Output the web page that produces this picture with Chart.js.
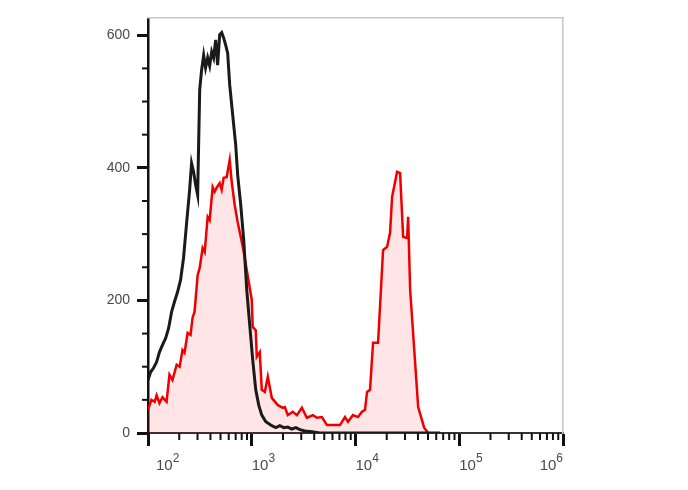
<!DOCTYPE html>
<html>
<head>
<meta charset="utf-8">
<script src="https://cdn.jsdelivr.net/npm/chart.js@4.4.1/dist/chart.umd.min.js"></script>
<style>
  html, body { margin: 0; padding: 0; background: #fff; }
  #wrap { width: 688px; height: 490px; }
</style>
</head>
<body>
<div id="wrap"><canvas id="histChart" width="688" height="490"></canvas></div>
<script>
// Unstained control (black) - fluorescence intensity and event counts
const blackX = [100, 106, 113, 121, 129, 138, 148, 158, 169, 180, 193, 206, 220, 236, 252, 263, 275, 288, 301, 315,
  329, 344, 359, 376, 393, 411, 429, 449, 469, 491, 513, 536, 561, 586, 613, 655, 700, 732, 783, 837,
  895, 956, 1022, 1093, 1168, 1249, 1366, 1561, 1706, 1865, 2038, 2227, 2435, 2662, 2910, 3251, 3799, 4539, 11050, 65540];
const blackCounts = [80, 92, 98, 107, 122, 133, 143, 158, 183, 198, 213, 231, 264, 318, 367, 407, 394, 374, 359, 518,
  548, 570, 551, 566, 554, 575, 566, 593, 555, 601, 604, 596, 585, 573, 525, 480, 435, 389, 344, 291,
  216, 163, 110, 65, 42, 27, 17, 11, 8, 11, 8, 9, 6, 8, 5, 3, 2, 0, 0, 0];

// Stained sample (red, filled)
const redX = [100, 108, 116, 121, 129, 138, 151, 161, 172, 189, 202, 215, 225, 241, 257, 269, 281, 301, 315, 336,
  352, 376, 393, 420, 439, 459, 491, 513, 536, 573, 613, 641, 685, 732, 783, 837, 895, 956, 1000, 1022,
  1093, 1118, 1195, 1249, 1336, 1428, 1561, 1784, 1993, 2084, 2227, 2489, 2722, 3042, 3400, 3885, 4247, 4746, 5304, 7084,
  7918, 8464, 9461, 10572, 11557, 12356, 12917, 13808, 14763, 16500, 18440, 20160, 21540, 22525, 25180, 26915, 28775, 31450, 32165, 33625,
  40180, 45900, 50180];
const redCounts = [35, 50, 47, 57, 45, 54, 47, 88, 80, 103, 100, 125, 121, 151, 148, 174, 183, 238, 249, 279,
  273, 326, 321, 371, 364, 370, 377, 367, 385, 386, 412, 379, 344, 318, 296, 273, 246, 219, 201, 160,
  155, 115, 122, 65, 62, 85, 53, 42, 38, 39, 27, 32, 27, 38, 23, 27, 23, 24, 12, 12,
  24, 17, 27, 24, 32, 35, 62, 65, 136, 136, 276, 281, 302, 356, 394, 392, 296, 294, 326, 216,
  39, 8, 0];

// Axis ticks
const xMajorTicks = [1e2, 1e3, 1e4, 1e5, 1e6];
const xTickExponents = ['2', '3', '4', '5', '6'];
const yMajorTicks = [0, 200, 400, 600];
const yMinorTicks = [50, 100, 150, 250, 300, 350, 450, 500, 550];

const xMinorTicks = [];
[1e2, 1e3, 1e4, 1e5].forEach(d => {
  for (let k = 2; k <= 9; k++) xMinorTicks.push(k * d);
});

const toPoints = (xs, ys) => xs.map((v, i) => ({ x: v, y: ys[i] }));

// minor ticks and 10^n labels drawn at positions from the chart's scales
const axisDecor = {
  id: 'axisDecor',
  afterDraw(chart) {
    const { ctx, scales: { x, y } } = chart;
    ctx.save();
    ctx.strokeStyle = '#111';
    ctx.lineWidth = 2;
    yMinorTicks.forEach(v => {
      const py = y.getPixelForValue(v);
      ctx.beginPath();
      ctx.moveTo(x.left - 6, py);
      ctx.lineTo(x.left, py);
      ctx.stroke();
    });
    xMinorTicks.forEach(v => {
      const px = x.getPixelForValue(v);
      ctx.beginPath();
      ctx.moveTo(px, y.bottom);
      ctx.lineTo(px, y.bottom + 7);
      ctx.stroke();
    });

    ctx.fillStyle = '#4a4a4a';
    ctx.textBaseline = 'alphabetic';
    ctx.textAlign = 'left';
    const baseFont = '15px "Liberation Sans", Arial, sans-serif';
    const expFont = '12px "Liberation Sans", Arial, sans-serif';
    xMajorTicks.forEach((v, i) => {
      const px = x.getPixelForValue(v);
      ctx.font = baseFont;
      const w1 = ctx.measureText('10').width;
      ctx.font = expFont;
      const w2 = ctx.measureText(xTickExponents[i]).width;
      let left = px;
      if (i === 0) left = px + 8;
      if (i === xMajorTicks.length - 1) left = px - w1 - w2;
      const baseY = y.bottom + 37;
      ctx.font = baseFont;
      ctx.fillText('10', left, baseY);
      ctx.font = expFont;
      ctx.fillText(xTickExponents[i], left + w1, baseY - 8);
    });
    ctx.restore();
  }
};

const ctx = document.getElementById('histChart').getContext('2d');
const histChart = new Chart(ctx, {
  type: 'line',
  data: {
    datasets: [
      {
        label: 'Control',
        data: toPoints(blackX, blackCounts),
        borderColor: '#1a1a1a',
        borderWidth: 3,
        pointRadius: 0,
        tension: 0,
        fill: false
      },
      {
        label: 'Stained',
        data: toPoints(redX, redCounts),
        borderColor: '#ee0000',
        backgroundColor: 'rgba(255, 0, 0, 0.1)',
        borderWidth: 2.5,
        pointRadius: 0,
        tension: 0,
        fill: 'origin'
      }
    ]
  },
  options: {
    responsive: false,
    animation: false,
    layout: { padding: { top: 18, right: 125, left: 0, bottom: 0 } },
    plugins: {
      legend: { display: false },
      tooltip: { enabled: false }
    },
    scales: {
      x: {
        type: 'logarithmic',
        position: 'bottom',
        min: 100,
        max: 1e6,
        afterBuildTicks: scale => { scale.ticks = xMajorTicks.map(v => ({ value: v })); },
        afterFit: scale => { scale.height = 57; },
        ticks: { display: false },
        grid: { drawOnChartArea: false, drawTicks: true, tickLength: 13, tickWidth: 3, tickColor: '#111' },
        border: { color: '#333', width: 2 }
      },
      y: {
        type: 'linear',
        position: 'left',
        min: 0,
        max: 626,
        afterBuildTicks: scale => { scale.ticks = yMajorTicks.map(v => ({ value: v })); },
        afterFit: scale => { scale.width = 148; },
        ticks: {
          padding: 7,
          color: '#4a4a4a',
          font: { family: '"Liberation Sans", Arial, sans-serif', size: 14 },
          callback: v => String(v)
        },
        grid: { drawOnChartArea: false, drawTicks: true, tickLength: 11, tickWidth: 3, tickColor: '#111' },
        border: { color: '#111', width: 2.5 }
      },
      xTop: {
        type: 'linear',
        position: 'top',
        min: 0,
        max: 1,
        afterFit: scale => { scale.height = 0; },
        ticks: { display: false },
        grid: { display: false },
        border: { color: '#c8c8c8', width: 1.5 }
      },
      yRight: {
        type: 'linear',
        position: 'right',
        min: 0,
        max: 1,
        afterFit: scale => { scale.width = 0; },
        ticks: { display: false },
        grid: { display: false },
        border: { color: '#c8c8c8', width: 1.5 }
      }
    }
  },
  plugins: [axisDecor]
});
</script>
</body>
</html>
